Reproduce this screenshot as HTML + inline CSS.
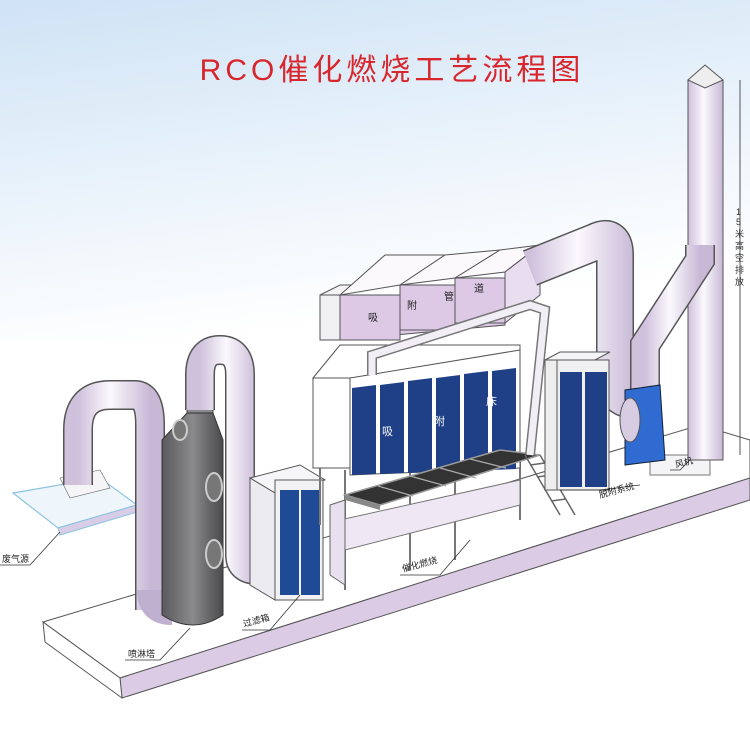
<!DOCTYPE html>
<html><head><meta charset="utf-8"><style>
html,body{margin:0;padding:0;background:#fff}
svg{display:block}
text{font-family:"Liberation Sans","Noto Sans CJK SC",sans-serif}
</style></head><body>
<svg width="750" height="750" viewBox="0 0 750 750" xmlns="http://www.w3.org/2000/svg">
<defs>
<linearGradient id="sky" x1="0" y1="0" x2="0.3" y2="1">
<stop offset="0" stop-color="#cfe3f5"/><stop offset="0.55" stop-color="#eaf3fb"/><stop offset="1" stop-color="#ffffff"/>
</linearGradient>
<linearGradient id="pv" x1="0" y1="0" x2="1" y2="0">
<stop offset="0" stop-color="#cfc0dc"/><stop offset="0.45" stop-color="#fbf9fd"/><stop offset="1" stop-color="#c8b8d6"/>
</linearGradient>
<linearGradient id="tower" x1="0" y1="0" x2="1" y2="0">
<stop offset="0" stop-color="#5a5a5c"/><stop offset="0.5" stop-color="#8a8a8c"/><stop offset="1" stop-color="#4a4a4c"/>
</linearGradient>
</defs>
<rect width="750" height="750" fill="#fff"/>
<rect width="750" height="340" fill="url(#sky)"/>

<text x="392" y="80" font-size="30" fill="#d8262c" text-anchor="middle" letter-spacing="4">RCO催化燃烧工艺流程图</text>

<!-- slab -->
<polygon points="43,622 700,425 750,440 750,478 120,678" fill="#fff" stroke="#555" stroke-width="1"/>
<polygon points="120,678 750,478 750,500 122,698" fill="#dccbe4" stroke="#555" stroke-width="1"/>
<polygon points="43,622 120,678 122,698 45,642" fill="#fff" stroke="#555" stroke-width="1"/>

<!-- hood -->
<polygon points="13,493 100,478 137,505 58,528" fill="#eef5fb" stroke="#8cc4e0" stroke-width="1.2"/>
<polygon points="58,528 137,505 137,512 60,535" fill="#d9cce6" stroke="#8cc4e0"/>
<polygon points="60,478 100,470 110,488 70,498" fill="#f5f5f8" stroke="#666" stroke-width="0.6"/>

<!-- pipe 1 -->
<path d="M78,485 L78,430 Q78,395 110,395 L135,395 Q150,395 150,425 L150,610" fill="none" stroke="#555" stroke-width="30" stroke-linejoin="round"/>
<path d="M78,485 L78,430 Q78,395 110,395 L135,395 Q150,395 150,425 L150,610" fill="none" stroke="url(#pv)" stroke-width="27" stroke-linejoin="round"/>
<path d="M150,590 Q150,612 172,612" fill="none" stroke="#bfb0cf" stroke-width="26"/>

<!-- tower -->
<path d="M187,420 L187,405 L213,405 L213,420" fill="#8a8a8c" stroke="#444"/>
<path d="M162,440 L187,413 L213,413 L223,440 L223,615 Q193,635 162,615 Z" fill="url(#tower)" stroke="#333" stroke-width="1"/>
<ellipse cx="214" cy="487" rx="8" ry="14" fill="#777" stroke="#ccc" stroke-width="2"/>
<ellipse cx="214" cy="554" rx="8" ry="14" fill="#777" stroke="#ccc" stroke-width="2"/>
<ellipse cx="180" cy="430" rx="7" ry="10" fill="#777" stroke="#ccc" stroke-width="2"/>

<!-- pipe 2 -->
<path d="M200,410 L200,375 Q200,350 220,350 Q240,350 240,375 L240,555 Q240,570 258,570" fill="none" stroke="#555" stroke-width="30"/>
<path d="M200,410 L200,375 Q200,350 220,350 Q240,350 240,375 L240,555 Q240,570 258,570" fill="none" stroke="url(#pv)" stroke-width="27"/>

<!-- filter box -->
<polygon points="250,478 300,465 325,480 275,493" fill="#f6f6f8" stroke="#555"/>
<polygon points="250,478 275,493 275,600 250,585" fill="#ececf0" stroke="#555"/>
<rect x="275" y="480" width="48" height="120" fill="#f2f2f5" stroke="#555"/>
<rect x="280" y="490" width="19" height="105" fill="#1f4b96"/>
<rect x="301" y="490" width="19" height="105" fill="#1f4b96"/>

<!-- adsorption bed frame legs -->
<g stroke="#777" stroke-width="2">
<line x1="320" y1="465" x2="320" y2="525"/><line x1="345" y1="470" x2="345" y2="590"/>
<line x1="410" y1="470" x2="410" y2="570"/><line x1="455" y1="470" x2="455" y2="560"/>
<line x1="520" y1="460" x2="520" y2="520"/>
</g>
<polygon points="340,520 520,480 520,505 345,550" fill="#efe8f4" stroke="#777"/>
<polygon points="330,505 345,500 345,585 330,575" fill="#e8e0ef" stroke="#666"/>

<!-- adsorption bed -->
<polygon points="313,378 340,345 520,345 520,378" fill="#fff" stroke="#555"/>
<rect x="313" y="378" width="37" height="90" fill="#fff" stroke="#555"/>
<polygon points="350,378 520,350 520,468 350,475" fill="#fff" stroke="#555"/>
<g fill="#1f3f86">
<polygon points="352,388 376,385 376,474 352,475"/><polygon points="380,385 404,382 404,473 380,474"/>
<polygon points="408,381 432,378 432,472 408,473"/><polygon points="436,378 460,375 460,471 436,472"/>
<polygon points="464,374 488,371 488,470 464,471"/><polygon points="492,371 516,368 516,469 492,470"/>
</g>
<text x="382" y="435" font-size="11" fill="#fff">吸</text>
<text x="434" y="425" font-size="11" fill="#fff">附</text>
<text x="486" y="405" font-size="11" fill="#fff">床</text>

<!-- platform -->
<polygon points="345,495 500,450 540,455 380,505" fill="#333" stroke="#999" stroke-width="1.5"/>
<polygon points="345,495 380,505 380,510 345,500" fill="#888"/>
<g stroke="#aaa" stroke-width="1.2"><line x1="378" y1="486" x2="413" y2="496"/><line x1="410" y1="476" x2="446" y2="486"/><line x1="440" y1="468" x2="476" y2="478"/><line x1="470" y1="459" x2="506" y2="468"/></g>
<g stroke="#666" stroke-width="1.5"><line x1="525" y1="455" x2="560" y2="515"/><line x1="540" y1="455" x2="575" y2="515"/>
<line x1="530" y1="465" x2="545" y2="463"/><line x1="537" y1="477" x2="552" y2="475"/><line x1="544" y1="489" x2="559" y2="487"/><line x1="551" y1="501" x2="566" y2="499"/></g>

<!-- top ducts -->
<g stroke="#555" stroke-width="1">
<polygon points="320,295 340,285 360,285 340,295" fill="#f4f4f6"/>
<rect x="320" y="295" width="20" height="45" fill="#f0f0f2"/>
<polygon points="340,310 505,290 505,325 340,340" fill="#ddc9e6"/>
<rect x="340" y="295" width="60" height="45" fill="#ddc9e6"/>
<rect x="400" y="285" width="55" height="45" fill="#ddc9e6"/>
<rect x="455" y="278" width="50" height="45" fill="#ddc9e6"/>
<polygon points="340,295 385,255 445,255 400,285" fill="#fbf9fc"/>
<polygon points="400,285 445,255 500,250 455,278" fill="#fbf9fc"/>
<polygon points="455,278 500,250 540,245 505,272" fill="#fbf9fc"/>
<polygon points="505,272 540,245 540,295 505,323" fill="#e9ddf0"/>
</g>
<text x="368" y="321" font-size="10" fill="#222">吸</text>
<text x="407" y="309" font-size="10" fill="#222">附</text>
<text x="444" y="300" font-size="10" fill="#222">管</text>
<text x="474" y="292" font-size="10" fill="#222">道</text>
<!-- small pipe -->
<path d="M372,375 L372,355 L530,305 L545,310 L530,455" fill="none" stroke="#777" stroke-width="10"/>
<path d="M372,375 L372,355 L530,305 L545,310 L530,455" fill="none" stroke="#f2eef6" stroke-width="7"/>

<!-- big pipe -->
<path d="M530,268 L595,242 Q615,232 615,255 L615,380 Q615,400 635,400" fill="none" stroke="#555" stroke-width="38"/>
<path d="M530,268 L595,242 Q615,232 615,255 L615,380 Q615,400 635,400" fill="none" stroke="url(#pv)" stroke-width="35"/>

<!-- desorption box -->
<polygon points="545,360 560,352 610,352 595,360" fill="#f5f5f7" stroke="#555"/>
<rect x="545" y="360" width="12" height="130" fill="#eee" stroke="#555"/>
<rect x="557" y="360" width="52" height="130" fill="#f0f0f2" stroke="#555"/>
<rect x="560" y="372" width="22" height="115" fill="#1f3f86"/>
<rect x="585" y="372" width="22" height="115" fill="#1f3f86"/>

<!-- stack -->
<rect x="650" y="455" width="60" height="20" fill="#f4f4f6" stroke="#777"/>
<rect x="688" y="80" width="35" height="380" fill="url(#pv)" stroke="#555"/>
<polygon points="688,80 705,65 723,80 705,88" fill="#eee" stroke="#555"/>
<line x1="740" y1="80" x2="740" y2="455" stroke="#555"/>
<text font-size="9" fill="#333"><tspan x="736" y="215">1</tspan><tspan x="736" y="225">5</tspan><tspan x="735" y="237">米</tspan><tspan x="735" y="249">高</tspan><tspan x="735" y="261">空</tspan><tspan x="735" y="273">排</tspan><tspan x="735" y="285">放</tspan></text>
<!-- angled pipe -->
<path d="M645,400 L645,345 L700,260 L700,245" fill="none" stroke="#555" stroke-width="30"/>
<path d="M645,400 L645,345 L700,260 L700,245" fill="none" stroke="url(#pv)" stroke-width="27"/>

<!-- fan -->
<path d="M625,390 L660,385 L665,460 L625,465 Z" fill="#2f6bd0" stroke="#123"/>
<ellipse cx="630" cy="420" rx="10" ry="22" fill="#d8cce2" stroke="#555"/>

<!-- labels -->
<g stroke="#333" stroke-width="0.8" fill="none">
<polyline points="60,532 30,565 0,565"/>
<polyline points="190,628 160,660 125,660"/>
<polyline points="300,595 270,630 242,630"/>
<polyline points="470,540 440,575 400,575"/>
<polyline points="560,490 600,490 640,485"/>
<polyline points="690,460 680,470 670,470"/>
</g>
<text x="2" y="562" font-size="9" fill="#222">废气源</text>
<text x="128" y="657" font-size="9" fill="#222">喷淋塔</text>
<text x="244" y="627" font-size="9" fill="#222" transform="rotate(-15 244 627)">过滤箱</text>
<text x="403" y="572" font-size="9" fill="#222" transform="rotate(-15 403 572)">催化燃烧</text>
<text x="600" y="498" font-size="9" fill="#222" transform="rotate(-15 600 498)">脱附系统</text>
<text x="676" y="468" font-size="9" fill="#222" transform="rotate(-15 676 468)">风机</text>
</svg>
</body></html>
